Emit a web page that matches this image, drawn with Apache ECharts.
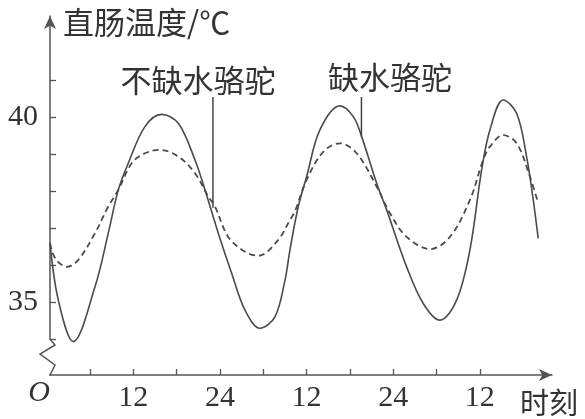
<!DOCTYPE html>
<html><head><meta charset="utf-8">
<script src="https://cdn.jsdelivr.net/npm/echarts@6/dist/echarts.min.js"></script>
<style>html,body{margin:0;padding:0;background:#fff}#c{width:585px;height:419px}</style>
</head><body><div id="c"></div>
<script>
// 缺水骆驼 (solid)
const hoursDry = [0.46,1.61,3.68,6.69,8.53,9.92,11.30,13.61,15.93,18.23,20.54,21.93,23.77,25.62,27.47,29.54,31.62,33.01,33.70,34.85,36.01,37.85,40.62,42.47,43.63,45.71,47.09,49.86,52.16,54.47,56.79,58.63,60.25,61.40,63.24,65.10,66.48,67.40,68.09];
const tempDry  = [36.59,35.05,33.93,35.41,36.86,38.03,38.75,39.74,40.07,39.83,38.84,38.03,36.86,35.78,34.78,34.29,34.60,35.59,36.41,37.58,38.39,39.65,40.30,40.01,39.47,38.21,37.49,35.95,34.96,34.51,35.05,36.41,38.57,39.65,40.46,40.10,38.93,37.76,36.72];
// 不缺水骆驼 (dashed)
const hoursWet = [0.46,1.16,2.77,4.38,6.69,8.53,9.92,11.77,13.61,15.69,18.23,20.54,22.38,23.31,25.15,27.47,29.31,32.08,33.70,34.39,36.01,38.31,40.62,42.94,45.71,47.55,49.86,53.09,55.86,58.63,60.47,61.40,63.24,65.10,66.94,68.09];
const tempWet  = [36.59,36.19,35.95,36.14,36.86,37.58,38.03,38.75,39.02,39.11,38.93,38.48,37.85,37.58,36.76,36.36,36.25,36.68,37.22,37.45,38.30,39.06,39.29,39.02,38.12,37.40,36.76,36.43,36.76,37.76,38.84,39.20,39.51,39.29,38.39,37.67];

const seriesNames = ['缺水骆驼', '不缺水骆驼'];
const xTickValues = [6,12,18,24,30,36,42,48,54,60];
const xLabelValues = [12,24,36,48,60];
const xLabelTexts = ['12','24','12','24','12'];
const yTickValues = [34,35,36,37,38,39,40,41];
const yLabelValues = [35,40];
const yAxisTitle = '直肠温度/℃';
const xAxisTitle = '时刻';
const originText = 'O';
// annotation pointer targets [hour, value]
const pointerDry = [43.6, 39.47];
const pointerWet = [23.03, 37.55];

const X_MIN = 0.457, X_MAX = 70, Y_MIN = 33.027, Y_MAX = 42.73;
const axisColor = '#555';
const lineColor = '#4a4a4a';
const textColor = '#333';
const serif = "'Liberation Serif','Times New Roman',serif";
const cjk = "'Noto Sans CJK SC','Noto Sans',sans-serif";

const chart = echarts.init(document.getElementById('c'));
chart.setOption({
  animation: false,
  backgroundColor: '#fff',
  grid: { left: 50, right: 33, top: 16, bottom: 44 },
  xAxis: {
    type: 'value', min: X_MIN, max: X_MAX,
    name: xAxisTitle, nameLocation: 'end', nameGap: 26,
    nameTextStyle: { fontFamily: cjk, fontSize: 29, color: textColor, align: 'right', verticalAlign: 'top', padding: [13, 0, 0, 0] },
    axisLine: { show: true, onZero: false, symbol: ['none', 'arrow'], symbolSize: [9, 13], lineStyle: { color: axisColor, width: 1.5 } },
    axisTick: { show: true, inside: true, length: 6, customValues: xTickValues, lineStyle: { color: axisColor, width: 1.3 } },
    axisLabel: { show: true, customValues: xLabelValues, margin: 8, fontFamily: serif, fontSize: 30, color: textColor,
      formatter: v => { const i = xLabelValues.indexOf(Math.round(v)); return i >= 0 ? xLabelTexts[i] : ''; } },
    splitLine: { show: false }
  },
  yAxis: {
    type: 'value', min: Y_MIN, max: Y_MAX,
    name: yAxisTitle, nameLocation: 'end', nameGap: -6,
    nameTextStyle: { fontFamily: cjk, fontSize: 31, color: textColor, align: 'left', verticalAlign: 'middle', padding: [0, 0, 0, 13] },
    axisLine: { show: true, onZero: false, symbol: ['none', 'arrow'], symbolSize: [9, 13], lineStyle: { color: axisColor, width: 1.5 } },
    axisTick: { show: true, inside: true, length: 6, customValues: yTickValues, lineStyle: { color: axisColor, width: 1.3 } },
    axisLabel: { show: true, customValues: yLabelValues, margin: 12, fontFamily: serif, fontSize: 30, color: textColor },
    splitLine: { show: false }
  },
  series: [
    { name: seriesNames[0], type: 'line', showSymbol: false, smooth: 0.35,
      data: hoursDry.map((h, i) => [h, tempDry[i]]),
      lineStyle: { color: lineColor, width: 1.6 } },
    { name: seriesNames[1], type: 'line', showSymbol: false, smooth: 0.35,
      data: hoursWet.map((h, i) => [h, tempWet[i]]),
      lineStyle: { color: lineColor, width: 1.8, type: [6, 4] } }
  ]
});

function px(p) { return chart.convertToPixel({ gridIndex: 0 }, p); }
const ax = px([X_MIN, 34]);
const bottom = px([X_MIN, Y_MIN]);
const axX = ax[0], y34 = ax[1], yB = bottom[1];
const pd = px(pointerDry), pw = px(pointerWet);
const labelY = 97;

chart.setOption({
  graphic: [
    { type: 'rect', z: 100, shape: { x: axX - 3, y: y34 + 1, width: 6, height: yB - y34 - 2 }, style: { fill: '#fff' } },
    { type: 'polyline', z: 101, shape: { points: [[axX, y34], [axX + 5, y34 + 6], [axX - 10, y34 + 15], [axX + 5, y34 + 26], [axX, yB]] },
      style: { stroke: axisColor, lineWidth: 1.5, fill: null } },
    { type: 'text', z: 101, x: 39, y: 393, style: { text: originText, font: 'italic 30px ' + serif, fill: textColor, align: 'center', verticalAlign: 'middle' } },
    { type: 'line', z: 101, shape: { x1: pw[0], y1: labelY, x2: pw[0], y2: pw[1] }, style: { stroke: '#444', lineWidth: 1.5 } },
    { type: 'line', z: 101, shape: { x1: pd[0], y1: labelY, x2: pd[0], y2: pd[1] }, style: { stroke: '#444', lineWidth: 1.5 } },
    { type: 'text', z: 101, x: 198, y: 80, style: { text: seriesNames[1], font: '31px ' + cjk, fill: textColor, align: 'center', verticalAlign: 'middle' } },
    { type: 'text', z: 101, x: 390, y: 77, style: { text: seriesNames[0], font: '31px ' + cjk, fill: textColor, align: 'center', verticalAlign: 'middle' } }
  ]
});
</script></body></html>
